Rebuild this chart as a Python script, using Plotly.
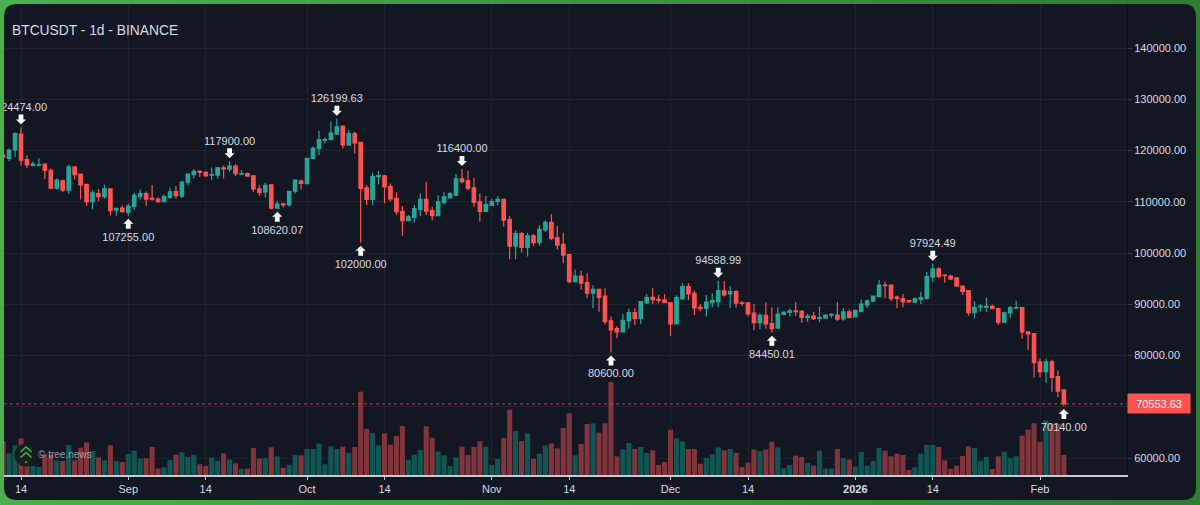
import pandas as pd
import plotly.graph_objects as go

dates = pd.date_range("2025-08-11", "2026-02-05", freq="D")

opens = [
    # Aug
    119100, 118440, 120100, 123200, 118200, 117100, 117150, 117350, 116150, 112650, 114100, 112250, 116800, 115400, 113400, 110000, 111600, 111000, 112500, 108350, 108750,
    # Sep
    107950, 109150, 111100, 111600, 110650, 110500, 110000, 110850, 112000, 111100, 113800, 115300, 115950, 115750, 115200, 115200, 116600, 116350, 116950, 115400, 115500, 115050, 112500, 111900, 113300, 108750, 109600, 109400, 112050, 114050,
    # Oct
    113550, 118450, 120400, 122000, 122150, 123200, 124750, 121100, 123300, 121600, 112700, 110450, 114900, 115050, 112950, 110650, 108100, 106300, 106950, 108500, 110450, 108250, 107300, 109850, 110750, 111300, 114450, 114100, 112700, 110000, 108100,
    # Nov
    109300, 110050, 110450, 106500, 101350, 103800, 101100, 103350, 102000, 104500, 106000, 103000, 101700, 99700, 94400, 95500, 94200, 92150, 92900, 91600, 86750, 85250, 84600, 86800, 88350, 87250, 90250, 91350, 90950, 90850,
    # Dec
    90300, 86150, 91050, 93450, 92150, 89400, 89200, 90300, 90500, 92600, 92000, 92450, 90250, 90250, 88250, 86400, 87850, 86200, 85350, 88000, 88450, 88700, 88600, 87450, 87700, 87250, 87300, 87850, 87900, 87150, 88500,
    # Jan
    87550, 88550, 89850, 90600, 91500, 93750, 93750, 91400, 91100, 90700, 90400, 90950, 91150, 95300, 96900, 95700, 95500, 95150, 93550, 92650, 88350, 89500, 89450, 89600, 89150, 86500, 88300, 89250, 89350, 84600, 84250,
    # Feb
    78750, 76850, 78750, 75900, 73300,
]
closes = [
    118700, 120065, 123300, 118100, 117200, 117350, 117250, 116100, 112650, 114200, 112250, 116800, 115300, 113300, 110000, 111750, 111000, 112500, 108250, 108700, 108050,
    109150, 111250, 111600, 110500, 110500, 110000, 111000, 111950, 111200, 113850, 115400, 115950, 115750, 115050, 115300, 116600, 116400, 116950, 115500, 115500, 115000, 112500, 111800, 113200, 108750, 109550, 109400, 112050, 114200, 113600,
    118450, 120400, 122150, 122150, 123400, 124600, 121100, 123300, 121500, 112600, 110450, 114950, 115100, 112900, 110550, 108050, 106300, 107050, 108650, 110450, 108150, 107300, 110000, 110950, 111600, 114450, 113900, 112650, 109850, 108100, 109450,
    110050, 110450, 106400, 101350, 103800, 101100, 103350, 102000, 104600, 106000, 102850, 101550, 99600, 94400, 95500, 94100, 92150, 92900, 91350, 86600, 85000, 84600, 86850, 88350, 87250, 90500, 91300, 90900, 90750, 90300,
    86150, 91300, 93450, 92000, 89300, 89200, 90400, 90700, 92650, 91800, 92450, 90200, 90150, 88100, 86400, 87850, 86150, 85250, 88100, 88450, 88700, 88550, 87450, 87700, 87200, 87400, 87900, 88050, 87100, 88500, 87450,
    88800, 90050, 90650, 91600, 93750, 93650, 91100, 91150, 90500, 90450, 91050, 91300, 95400, 96900, 95450, 95600, 94950, 93550, 92500, 88350, 89400, 89650, 89600, 89150, 86500, 88300, 89350, 89350, 84600, 84200, 78600,
    76850, 78750, 75750, 73050, 70553.63,
]
highs = [
    119500, 120390, 123500, 124474, 119000, 117800, 118500, 117500, 116550, 114600, 114350, 117200, 116950, 115500, 113400, 112250, 112500, 113350, 112500, 108700, 109300,
    109650, 111750, 112400, 112000, 113250, 110850, 111400, 112800, 113000, 114100, 115500, 116400, 116150, 116000, 116700, 116800, 117050, 117900, 117300, 116150, 115650, 115200, 113250, 113700, 113300, 110200, 109800, 112050, 114350, 114400,
    118600, 120850, 123850, 122550, 125600, 126199.63, 124750, 124000, 123650, 121650, 113250, 115650, 116000, 115200, 113550, 111850, 109150, 107400, 109350, 111600, 113900, 109000, 111250, 111850, 111950, 115400, 116400, 116050, 114650, 111600, 111100,
    110550, 111100, 110550, 107200, 104450, 104150, 103950, 103700, 105450, 106400, 107550, 105250, 103950, 99700, 96800, 96550, 96050, 93700, 92900, 93100, 87600, 85750, 88100, 89150, 89200, 90650, 92000, 93100, 91800, 92000,
    90300, 91750, 94100, 94100, 92650, 90050, 91800, 92150, 94588.99, 94550, 93550, 92800, 90700, 90250, 90050, 88250, 90350, 89400, 89400, 88550, 89100, 90500, 88900, 88100, 88550, 89550, 87950, 88250, 90450, 89200, 89000,
    88900, 90950, 90950, 91700, 94750, 94400, 93750, 91700, 92000, 90850, 91300, 92450, 96350, 97924.49, 97200, 95850, 95700, 95250, 93700, 92800, 90600, 90050, 91250, 89950, 89300, 88550, 89650, 90700, 89350, 84700, 84250,
    79400, 79400, 79150, 77050, 73400,
]
lows = [
    118500, 117920, 118750, 117000, 116600, 116950, 116950, 114400, 112500, 112400, 111900, 111550, 114350, 110450, 109150, 108550, 110100, 110650, 107300, 107250, 107900,
    107255, 108350, 110450, 109200, 110200, 109800, 109850, 110600, 110600, 110700, 113250, 114550, 114850, 115000, 114200, 114550, 114550, 115850, 115000, 115250, 114950, 111950, 111200, 110850, 108500, 108620.07, 108900, 109000, 111600, 112400,
    113400, 118300, 119100, 121350, 122000, 123000, 120400, 120900, 119400, 102000, 109350, 109350, 113350, 109650, 110000, 107400, 103350, 106200, 105950, 107200, 107400, 106400, 107200, 109450, 110650, 111100, 113550, 112250, 109000, 106100, 108000,
    109200, 109300, 105100, 98800, 98800, 100100, 99300, 101350, 101350, 104100, 102500, 100700, 98000, 94100, 94250, 92900, 91150, 89200, 88550, 86100, 80600, 83350, 84500, 85250, 85950, 86150, 90050, 90050, 90200, 90250,
    83800, 86100, 90850, 90850, 87900, 88750, 87600, 89400, 89400, 91500, 89200, 89350, 89650, 87600, 84950, 85100, 85200, 84450.01, 85250, 87850, 87600, 87700, 86400, 86550, 86950, 86500, 87200, 87300, 86800, 86800, 87200,
    87450, 88450, 89200, 90500, 91350, 91150, 90650, 89200, 89400, 90300, 90200, 90050, 90950, 94400, 95050, 94200, 94750, 93450, 91800, 87800, 87250, 88550, 88550, 89100, 85950, 86300, 87250, 89200, 83250, 81100, 75700,
    75700, 74700, 72950, 71850, 70140,
]
# no volume scale is shown, so these are in arbitrary units
volumes = [
    102, 65, 89, 110, 57, 27, 24, 62, 60, 44, 42, 90, 44, 82, 98, 72, 53, 44, 89, 42, 39,
    63, 73, 49, 50, 84, 20, 23, 45, 61, 68, 54, 61, 32, 27, 52, 43, 65, 46, 35, 18, 19, 81, 49, 50, 83, 56, 22, 31, 61, 59,
    78, 78, 94, 32, 86, 78, 85, 67, 84, 250, 138, 126, 89, 125, 91, 117, 147, 45, 61, 75, 146, 112, 70, 59, 27, 53, 85, 60, 84, 101, 85,
    30, 48, 111, 196, 132, 102, 125, 49, 64, 89, 95, 80, 141, 185, 59, 93, 153, 155, 127, 155, 279, 56, 77, 96, 78, 84, 66, 74, 30, 39,
    136, 110, 101, 78, 78, 34, 51, 62, 83, 74, 78, 66, 24, 37, 77, 72, 77, 100, 83, 20, 30, 58, 54, 36, 28, 73, 19, 19, 78, 51, 46,
    25, 69, 28, 42, 81, 73, 56, 64, 60, 15, 23, 64, 90, 90, 84, 44, 18, 28, 57, 86, 81, 43, 54, 18, 56, 70, 51, 56, 118, 136, 155,
    99, 164, 154, 154, 60,
]

tick_dates = ["2025-08-14", "2025-09-01", "2025-09-14", "2025-10-01", "2025-10-14", "2025-11-01", "2025-11-14",
              "2025-12-01", "2025-12-14", "2026-01-01", "2026-01-14", "2026-02-01"]
tick_labels = ["14", "Sep", "14", "Oct", "14", "Nov", "14", "Dec", "14", "<b>2026</b>", "14", "Feb"]
price_ticks = [60000, 70000, 80000, 90000, 100000, 110000, 120000, 130000, 140000]
# 70000 sits behind the last price tag, so it has no text
price_labels = ["60000.00", "", "80000.00", "90000.00", "100000.00", "110000.00", "120000.00", "130000.00", "140000.00"]
high_marks = ["2025-08-14", "2025-09-18", "2025-10-06", "2025-10-27", "2025-12-09", "2026-01-14"]
low_marks = ["2025-09-01", "2025-09-26", "2025-10-10", "2025-11-21", "2025-12-18", "2026-02-05"]

UP = "#26a69a"
DOWN = "#ff5252"
VOL_UP = "#125653"
VOL_DOWN = "#80343c"
BG = "#131722"
TEXT = "#d8dbe2"
PLOT_L, PLOT_R, PLOT_T, PLOT_B = 4, 1127, 4, 475
# price distance between a wick end and its label
HIGH_OFFSET = 3800
LOW_OFFSET = 4350


def px(x):
    return (x - PLOT_L) / (PLOT_R - PLOT_L)


def py(y):
    return 1 - (y - PLOT_T) / (PLOT_B - PLOT_T)


def rounded_rect(x0, y0, x1, y1, r):
    return (f"M {px(x0 + r)} {py(y0)} L {px(x1 - r)} {py(y0)} Q {px(x1)} {py(y0)} {px(x1)} {py(y0 + r)} "
            f"L {px(x1)} {py(y1 - r)} Q {px(x1)} {py(y1)} {px(x1 - r)} {py(y1)} "
            f"L {px(x0 + r)} {py(y1)} Q {px(x0)} {py(y1)} {px(x0)} {py(y1 - r)} "
            f"L {px(x0)} {py(y0 + r)} Q {px(x0)} {py(y0)} {px(x0 + r)} {py(y0)} Z")


fig = go.Figure()

# volume stays on the base axis, price overlays it so candles and labels draw on top
vol_colors = [VOL_UP if c >= o else VOL_DOWN for o, c in zip(opens, closes)]
fig.add_trace(go.Bar(x=dates, y=volumes, yaxis="y", marker=dict(color=vol_colors, line_width=0), showlegend=False))

fig.add_trace(go.Candlestick(
    x=dates, open=opens, high=highs, low=lows, close=closes, yaxis="y2",
    increasing=dict(line=dict(color=UP, width=1.2), fillcolor=UP),
    decreasing=dict(line=dict(color=DOWN, width=1.2), fillcolor=DOWN),
    whiskerwidth=0, showlegend=False,
))

# high/low labels, as a text trace so the first one gets clipped at the chart edge
series_high = pd.Series(highs, index=dates)
series_low = pd.Series(lows, index=dates)
mark_x = high_marks + low_marks
mark_y = [series_high[d] + HIGH_OFFSET for d in high_marks] + [series_low[d] - LOW_OFFSET for d in low_marks]
mark_text = [f"{series_high[d]:.2f}" for d in high_marks] + [f"{series_low[d]:.2f}" for d in low_marks]
fig.add_trace(go.Scatter(x=mark_x, y=mark_y, text=mark_text, mode="text", textposition="middle center", yaxis="y2",
                         textfont=dict(family="Liberation Sans", size=11, color=TEXT), showlegend=False))

shapes = []
# green frame, lighter on the left
steps = 40
for i in range(steps):
    t = i / (steps - 1)
    color = f"rgb({int(76 - 30 * t)},{int(175 - 50 * t)},{int(80 - 30 * t)})"
    shapes.append(dict(type="rect", xref="paper", yref="paper", layer="below",
                       x0=px(1200 * i / steps), x1=px(1200 * (i + 1) / steps + 1), y0=py(0), y1=py(505),
                       fillcolor=color, line_width=0))
shapes.append(dict(type="path", xref="paper", yref="paper", layer="below",
                   path=rounded_rect(4, 4, 1196, 500, 13), fillcolor=BG, line_width=0))

# last price line
shapes.append(dict(type="line", xref="paper", x0=0, x1=1, yref="y2", y0=closes[-1], y1=closes[-1],
                   line=dict(color="rgba(255,82,82,0.75)", width=1, dash="dot")))

# arrows above highs and below lows
for d in high_marks:
    shapes.append(dict(type="path", xref="x", yref="y2", xsizemode="pixel", ysizemode="pixel",
                       xanchor=d, yanchor=series_high[d], line_width=0, fillcolor="white",
                       path="M 0 3 L 5 8 L 2.4 8 L 2.4 13 L -2.4 13 L -2.4 8 L -5 8 Z"))
for d in low_marks:
    shapes.append(dict(type="path", xref="x", yref="y2", xsizemode="pixel", ysizemode="pixel",
                       xanchor=d, yanchor=series_low[d], line_width=0, fillcolor="white",
                       path="M 0 -3 L 5 -8 L 2.4 -8 L 2.4 -13 L -2.4 -13 L -2.4 -8 L -5 -8 Z"))

# tree.news logo
shapes.append(dict(type="circle", xref="paper", yref="paper", x0=px(14.5), x1=px(37.5), y0=py(443.5), y1=py(466.5),
                   fillcolor="rgba(20,30,27,0.95)", line_width=0))
for top in (447, 452.5):
    shapes.append(dict(type="path", xref="paper", yref="paper", line=dict(color="#2fbf55", width=1.5),
                       path=f"M {px(20.5)} {py(top + 5)} L {px(26)} {py(top)} L {px(31.5)} {py(top + 5)}"))
shapes.append(dict(type="circle", xref="paper", yref="paper", x0=px(25), x1=px(27), y0=py(461), y1=py(463),
                   fillcolor="#2fbf55", line_width=0))

annotations = [
    dict(xref="paper", yref="paper", x=px(10), y=py(30.7), xanchor="left", yanchor="middle", showarrow=False,
         text="BTCUSDT - 1d - BINANCE", font=dict(family="Liberation Sans", size=13.8, color=TEXT)),
    dict(xref="paper", yref="paper", x=px(36), y=py(454), xanchor="left", yanchor="middle", showarrow=False,
         text="© tree.news", font=dict(family="Liberation Sans", size=10, color="rgba(209,212,220,0.7)")),
    dict(xref="paper", yref="y2", x=1, y=closes[-1], xanchor="left", yanchor="middle", showarrow=False,
         text=f"{closes[-1]:.2f}", width=62, height=19, bgcolor=DOWN, borderpad=0,
         font=dict(family="Liberation Sans", size=11, color="white")),
]

fig.update_layout(
    width=1200, height=505, autosize=False,
    margin=dict(l=PLOT_L, r=1200 - PLOT_R, t=PLOT_T, b=505 - PLOT_B, pad=0),
    paper_bgcolor=BG, plot_bgcolor="rgba(0,0,0,0)",
    showlegend=False, hovermode=False, boxgap=0.18, bargap=0.14,
    font=dict(family="Liberation Sans", size=11, color=TEXT),
    shapes=shapes, annotations=annotations,
    xaxis=dict(
        type="date", range=["2025-08-11 03:30", "2026-02-15 14:20"], rangeslider_visible=False,
        tickmode="array", tickvals=tick_dates, ticktext=tick_labels, tickangle=0,
        showgrid=True, gridcolor="#1f232e", gridwidth=1, zeroline=False,
        showline=True, linecolor="#c8cad2", linewidth=1.5, ticks="outside", ticklen=3, tickcolor="#c8cad2",
        tickfont=dict(size=11, color=TEXT),
    ),
    yaxis=dict(range=[0, 1413], visible=False, showgrid=False, zeroline=False),
    yaxis2=dict(
        overlaying="y", side="right", range=[56683, 148585], tickmode="array", tickvals=price_ticks,
        ticktext=price_labels,
        showgrid=True, gridcolor="#1f232e", gridwidth=1, zeroline=False,
        showline=True, linecolor="#0b0d13", linewidth=1, ticks="outside", ticklen=4, tickcolor="#3a3e4a",
        tickfont=dict(size=11, color=TEXT),
    ),
)

fig.write_html("out.html", config=dict(displayModeBar=False),
               post_script="document.body.style.margin='0';document.body.style.overflow='hidden';")
